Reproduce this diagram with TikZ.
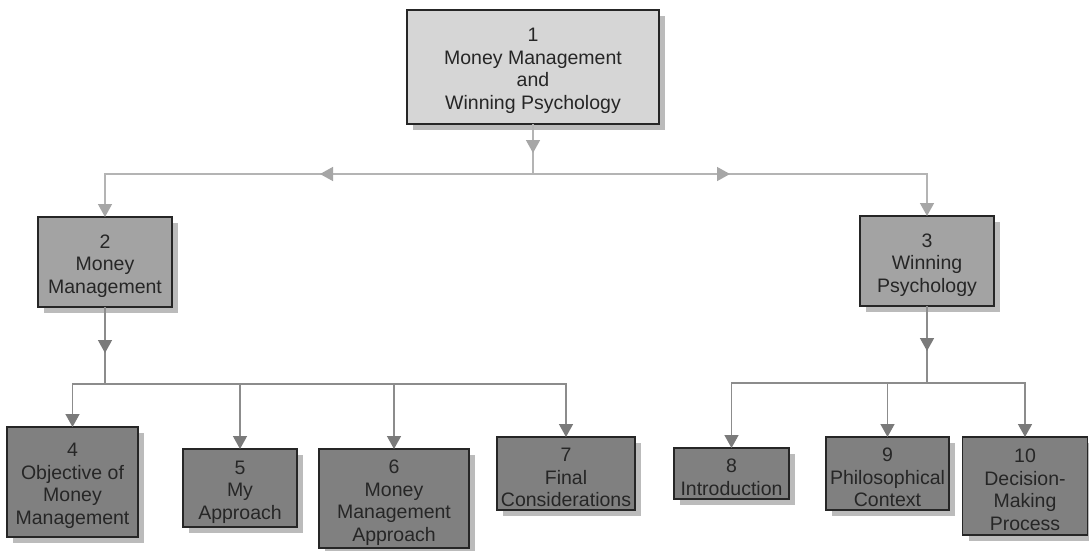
\documentclass[tikz,border=0pt]{standalone}
\usepackage{fontspec}
\setmainfont{Liberation Sans}
\usetikzlibrary{arrows.meta,shadows,decorations.markings}

\definecolor{inkgray}{HTML}{262626}
\definecolor{lightfill}{HTML}{D6D6D6}
\definecolor{midfill}{HTML}{A3A3A3}
\definecolor{darkfill}{HTML}{808080}
\definecolor{shadowgray}{HTML}{BBBBBB}
\definecolor{topline}{HTML}{B4B4B4}
\definecolor{toptip}{HTML}{A6A6A6}
\definecolor{lowline}{HTML}{8C8C8C}
\definecolor{lowtip}{HTML}{7A7A7A}

\tikzset{
  boxtext/.style={align=center, inner sep=0pt, text=inkgray,
    font=\fontsize{19.5}{22.5}\selectfont, yshift=-4pt},
  box/.style={draw=inkgray, line width=1.3pt, inner sep=0pt, outer sep=0pt,
    drop shadow={shadow xshift=6pt, shadow yshift=-6pt, fill=shadowgray, opacity=1},
    label={[boxtext]center:{#1}}},
  lvlone/.style={box={#1}, fill=lightfill},
  lvltwo/.style={box={#1}, fill=midfill},
  lvlthree/.style={box={#1}, fill=darkfill},
  toplain/.style={draw=topline, line width=1.4pt},
  toplink/.style={toplain, arrows={-{Triangle[length=13pt,width=14pt,color=toptip]}}},
  lowplain/.style={draw=lowline, line width=1.4pt},
  lowlink/.style={lowplain, arrows={-{Triangle[length=13pt,width=14pt,color=lowtip]}}},
  midtip/.style 2 args={postaction={decorate, decoration={markings,
    mark=at position #1 with {\arrow{Triangle[length=13pt,width=14pt,color=#2]}}}}}
}

\begin{document}
\begin{tikzpicture}[x=1pt, y=-1pt]
  \fill[white] (0,0) rectangle (1089,550);
  \useasboundingbox (0,0) rectangle (1089,550);

  % top level
  \node[lvlone={1\\Money Management\\and\\Winning Psychology},
    minimum width=252pt, minimum height=114pt] (n1) at (533,67) {};

  % second level
  \node[lvltwo={2\\Money\\Management},
    minimum width=134pt, minimum height=90pt] (n2) at (105,262) {};
  \node[lvltwo={3\\Winning\\Psychology},
    minimum width=134pt, minimum height=90pt] (n3) at (927,261) {};

  % third level, money management branch
  \node[lvlthree={4\\Objective of\\Money\\Management},
    minimum width=131pt, minimum height=110pt] (n4) at (72.5,482) {};
  \node[lvlthree={5\\My\\Approach},
    minimum width=114pt, minimum height=78pt] (n5) at (240,488) {};
  \node[lvlthree={6\\Money\\Management\\Approach},
    minimum width=150pt, minimum height=99pt] (n6) at (394,498.5) {};
  \node[lvlthree={7\\Final\\Considerations},
    minimum width=138pt, minimum height=73pt] (n7) at (566,473.5) {};

  % third level, winning psychology branch
  \node[lvlthree={8\\Introduction},
    minimum width=115pt, minimum height=51pt] (n8) at (731.5,473.5) {};
  \node[lvlthree={9\\Philosophical\\Context},
    minimum width=123pt, minimum height=73pt] (n9) at (887.5,473.5) {};
  \node[lvlthree={10\\Decision-\\Making\\Process},
    minimum width=125pt, minimum height=98pt] (n10) at (1025,486) {};

  % junction points
  \coordinate (hubtop) at (533,174);
  \coordinate (hubleft) at (105,384);
  \coordinate (hubright) at (927,383);

  % upper connectors
  \draw[toplain, midtip={29pt}{toptip}] (n1.south) -- (hubtop);
  \draw[toplink, midtip={213pt}{toptip}] (hubtop) -| (n2.north);
  \draw[toplink, midtip={197pt}{toptip}] (hubtop) -| (n3.north);

  % lower connectors, left branch
  \draw[lowplain, midtip={46pt}{lowtip}] (n2.south) -- (hubleft);
  \draw[lowlink] (hubleft) -| (n4.north);
  \draw[lowlink] (hubleft) -| (n5.north);
  \draw[lowlink] (hubleft) -| (n6.north);
  \draw[lowlink] (hubleft) -| (n7.north);

  % lower connectors, right branch
  \draw[lowplain, midtip={45pt}{lowtip}] (n3.south) -- (hubright);
  \draw[lowlink] (hubright) -| (n8.north);
  \draw[lowlink] (hubright) -| (n9.north);
  \draw[lowlink] (hubright) -| (n10.north);
\end{tikzpicture}
\end{document}
